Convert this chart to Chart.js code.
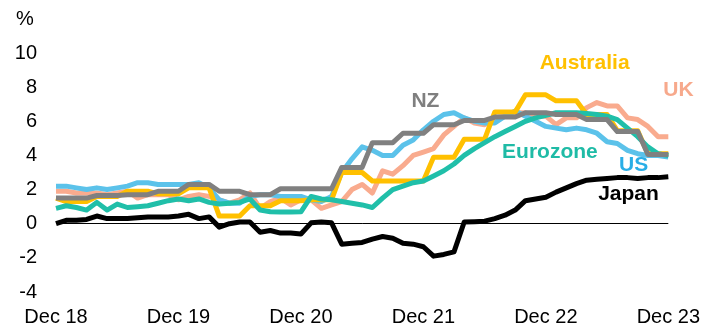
<!DOCTYPE html>
<html>
<head>
<meta charset="utf-8">
<script src="https://cdn.jsdelivr.net/npm/chart.js@4"></script>
<style>
  body { margin: 0; background: #fff; }
  #wrap { width: 713px; height: 331px; }
</style>
</head>
<body>
<div id="wrap"><canvas id="lineChart"></canvas></div>
<script>
// monthly, Dec 18 .. Dec 23 (61 points)
const xTickLabels = ['Dec 18', 'Dec 19', 'Dec 20', 'Dec 21', 'Dec 22', 'Dec 23'];
const yTicks = [-4, -2, 0, 2, 4, 6, 8, 10];

const australia = [1.5, 1.3, 1.3, 1.3, 1.6, 1.6, 1.6, 1.9, 1.9, 1.9, 1.75, 1.75, 1.75,
    2.1, 2.1, 2.1, 0.45, 0.45, 0.45, 1.05, 1.05, 1.05, 1.35, 1.35, 1.35,
    1.4, 1.4, 1.4, 3.0, 3.0, 3.0, 2.5, 2.5, 2.5, 2.5, 2.5, 2.5,
    3.9, 3.9, 3.9, 4.95, 4.95, 4.95, 6.55, 6.55, 6.55, 7.55, 7.55, 7.55,
    7.2, 7.2, 7.2, 6.4, 6.4, 6.4, 5.45, 5.45, 5.45, 4.1, 4.1, 4.1];
const uk = [1.9, 1.9, 1.8, 1.8, 1.8, 1.7, 1.8, 1.9, 1.5, 1.7, 1.7, 1.7, 1.4,
    1.6, 1.7, 1.6, 1.4, 1.2, 1.4, 1.8, 0.9, 1.3, 1.5, 1.1, 1.4,
    1.4, 0.9, 1.1, 1.3, 2.0, 2.3, 1.8, 3.1, 2.9, 3.4, 4.0, 4.2,
    4.4, 5.2, 5.7, 6.2, 5.9, 5.8, 6.2, 6.3, 6.5, 6.5, 6.3, 6.3,
    5.8, 6.2, 6.2, 6.8, 7.1, 6.9, 6.9, 6.2, 6.1, 5.7, 5.1, 5.1];
const nz = [1.5, 1.5, 1.5, 1.5, 1.65, 1.65, 1.65, 1.7, 1.7, 1.7, 1.9, 1.9, 1.9,
    2.3, 2.3, 2.3, 1.9, 1.9, 1.9, 1.7, 1.7, 1.7, 2.05, 2.05, 2.05,
    2.05, 2.05, 2.05, 3.3, 3.3, 3.3, 4.75, 4.75, 4.75, 5.3, 5.3, 5.3,
    5.8, 5.8, 5.8, 6.05, 6.05, 6.05, 6.25, 6.25, 6.25, 6.5, 6.5, 6.5,
    6.4, 6.4, 6.4, 6.1, 6.1, 6.1, 5.4, 5.4, 5.4, 4.05, 4.05, 4.05];
const us = [2.2, 2.2, 2.1, 2.0, 2.1, 2.0, 2.1, 2.2, 2.4, 2.4, 2.3, 2.3, 2.3,
    2.3, 2.4, 2.1, 1.4, 1.2, 1.2, 1.6, 1.7, 1.7, 1.6, 1.6, 1.6,
    1.4, 1.3, 1.6, 3.0, 3.8, 4.5, 4.3, 4.0, 4.0, 4.6, 4.9, 5.5,
    6.0, 6.4, 6.5, 6.2, 6.0, 5.9, 5.9, 6.3, 6.6, 6.3, 6.0, 5.7,
    5.6, 5.5, 5.6, 5.5, 5.3, 4.8, 4.7, 4.3, 4.1, 4.0, 4.0, 3.9];
const eurozone = [0.9, 1.05, 0.95, 0.8, 1.25, 0.8, 1.15, 0.95, 1.0, 1.05, 1.2, 1.35, 1.45,
    1.35, 1.45, 1.25, 1.15, 1.2, 1.25, 1.45, 0.8, 0.7, 0.68, 0.68, 0.7,
    1.6, 1.45, 1.4, 1.3, 1.2, 1.1, 0.95, 1.5, 2.0, 2.2, 2.4, 2.5,
    2.8, 3.1, 3.5, 4.0, 4.4, 4.75, 5.1, 5.4, 5.7, 6.0, 6.2, 6.35,
    6.5, 6.5, 6.5, 6.45, 6.4, 6.3, 6.1, 5.6, 5.1, 4.5, 4.1, 4.0];
const japan = [0.0, 0.2, 0.2, 0.25, 0.45, 0.3, 0.3, 0.3, 0.35, 0.4, 0.4, 0.4, 0.45,
    0.55, 0.3, 0.4, -0.2, 0.0, 0.1, 0.1, -0.5, -0.4, -0.55, -0.55, -0.6,
    0.05, 0.1, 0.05, -1.2, -1.15, -1.1, -0.9, -0.75, -0.85, -1.15, -1.2, -1.35,
    -1.9, -1.8, -1.65, 0.1, 0.12, 0.15, 0.3, 0.5, 0.8, 1.35, 1.45, 1.55,
    1.85, 2.1, 2.35, 2.55, 2.6, 2.65, 2.7, 2.7, 2.65, 2.7, 2.7, 2.75];

// category labels, one per month
const monthNames = ['Jan','Feb','Mar','Apr','May','Jun','Jul','Aug','Sep','Oct','Nov','Dec'];
const months = [];
for (let i = 0; i < australia.length; i++) {
    const m = (11 + i) % 12;
    const yr = 18 + Math.floor((11 + i) / 12);
    months.push(monthNames[m] + ' ' + yr);
}

const FONT = "'Liberation Sans', Arial, sans-serif";

// series name labels, placed in data coordinates (month index, value)
const nameTags = [
    { text: 'Australia', color: '#FFC000', at: [51.8, 9.4] },
    { text: 'UK', color: '#F7A98C', at: [61, 7.8] },
    { text: 'NZ', color: '#7F7F7F', at: [36.2, 7.2] },
    { text: 'Eurozone', color: '#1FBBA6', at: [48.4, 4.2] },
    { text: 'US', color: '#29AEE6', at: [56.6, 3.4] },
    { text: 'Japan', color: '#000000', at: [56.1, 1.75] }
];

const tagPlugin = {
    id: 'tags',
    afterDatasetsDraw(chart) {
        const c = chart.ctx;
        const xs = chart.scales.x, ys = chart.scales.y;
        c.save();
        c.font = 'bold 21px ' + FONT;
        c.textAlign = 'center';
        c.textBaseline = 'middle';
        nameTags.forEach(t => {
            c.fillStyle = t.color;
            c.fillText(t.text, xs.getPixelForValue(t.at[0]), ys.getPixelForValue(t.at[1]));
        });
        c.font = '20px ' + FONT;
        c.fillStyle = '#000';
        c.fillText('%', 25, 19);
        c.restore();
    }
};

function line(label, data, color, order) {
    return {
        label: label,
        data: data,
        borderColor: color,
        borderWidth: 5,
        pointRadius: 0,
        tension: 0,
        borderJoinStyle: 'round',
        fill: false,
        order: order
    };
}

new Chart(document.getElementById('lineChart'), {
    type: 'line',
    data: {
        labels: months,
        datasets: [
            line('Japan', japan, '#000000', 1),
            line('NZ', nz, '#808080', 2),
            line('Eurozone', eurozone, '#20BFA9', 3),
            line('Australia', australia, '#FFC000', 4),
            line('US', us, '#5BC2EA', 5),
            line('UK', uk, '#F9AB8E', 6)
        ]
    },
    options: {
        responsive: true,
        maintainAspectRatio: false,
        animation: false,
        layout: { padding: { top: 53, right: 36, bottom: 0, left: 0 } },
        plugins: { legend: { display: false }, tooltip: { enabled: false } },
        scales: {
            x: {
                grid: { display: false, drawTicks: false },
                border: { display: false },
                ticks: {
                    autoSkip: false,
                    maxRotation: 0,
                    padding: 13,
                    color: '#000',
                    font: { family: FONT, size: 20 },
                    callback: (v, i) => (i % 12 === 0 ? xTickLabels[i / 12] : '')
                },
                afterFit: s => { s.height = 39; }
            },
            y: {
                min: yTicks[0],
                max: yTicks[yTicks.length - 1],
                afterBuildTicks: s => { s.ticks = yTicks.map(v => ({ value: v })); },
                grid: {
                    drawTicks: false,
                    color: ctx => (ctx.tick && ctx.tick.value === 0 ? '#000' : 'rgba(0,0,0,0)'),
                    lineWidth: 1
                },
                border: { display: false },
                ticks: {
                    padding: 19,
                    color: '#000',
                    font: { family: FONT, size: 20 }
                },
                afterFit: s => { s.width = 56; }
            }
        }
    },
    plugins: [tagPlugin]
});
</script>
</body>
</html>
